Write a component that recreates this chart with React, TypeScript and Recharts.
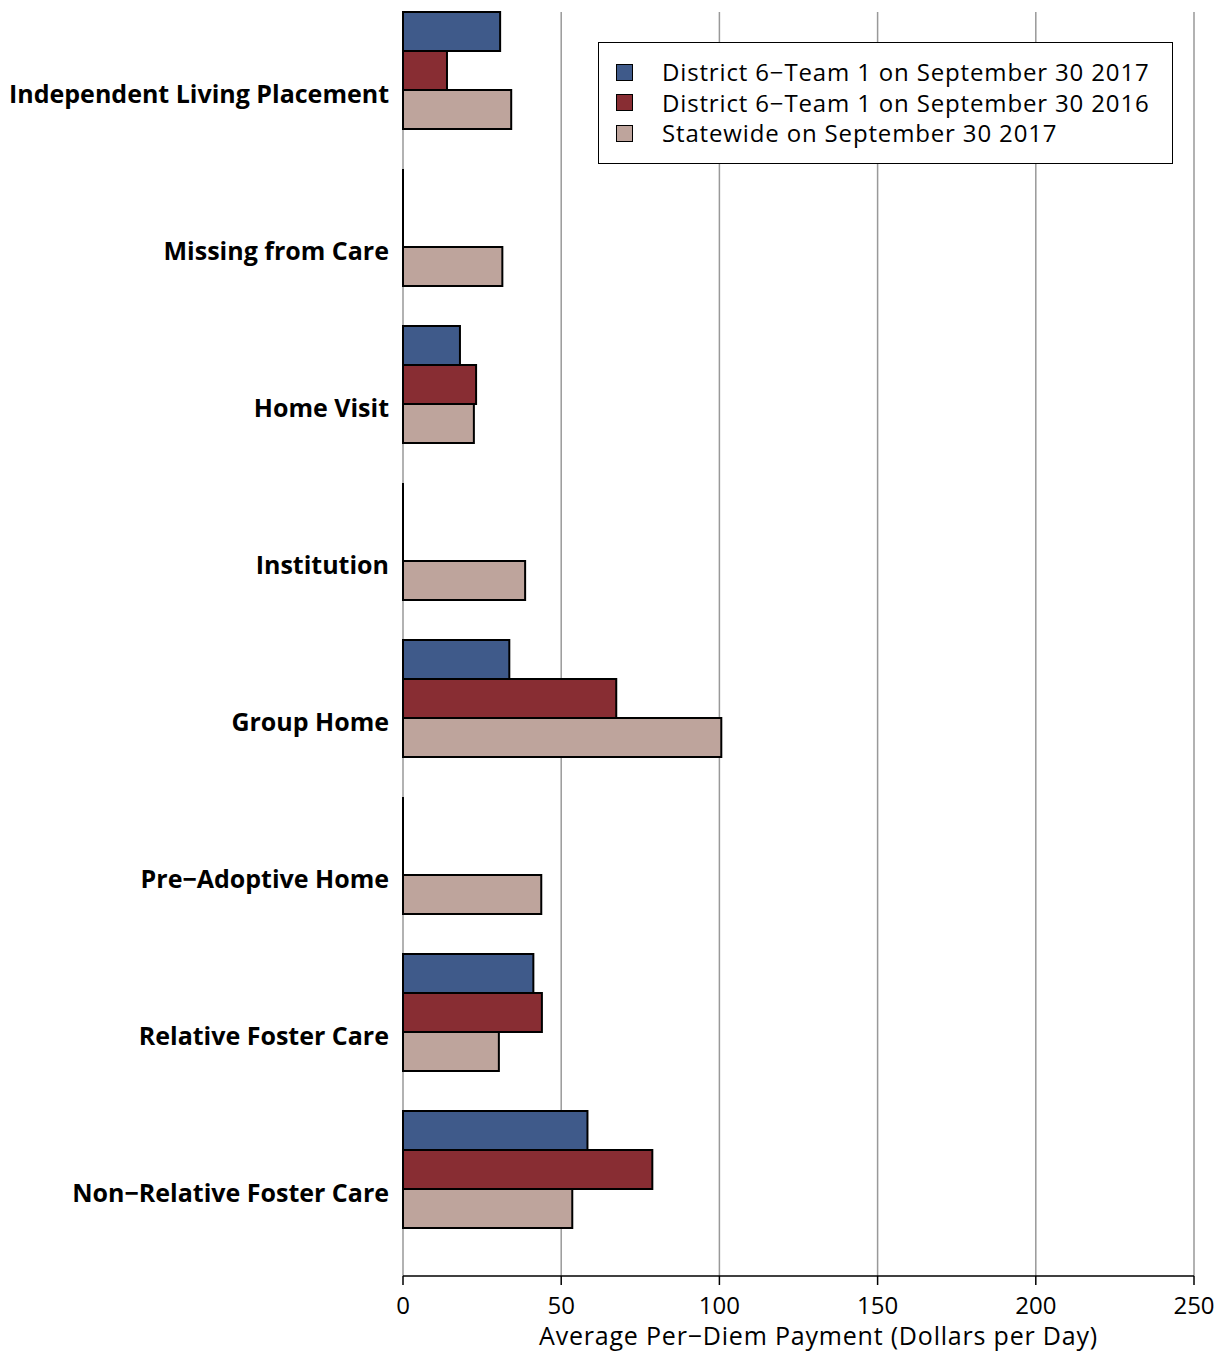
import { BarChart, Bar, XAxis, YAxis, CartesianGrid } from "recharts";

const categories = [
  "Independent Living Placement",
  "Missing from Care",
  "Home Visit",
  "Institution",
  "Group Home",
  "Pre−Adoptive Home",
  "Relative Foster Care",
  "Non−Relative Foster Care",
];
const team2017 = [30.7, 0, 18.0, 0, 33.6, 0, 41.2, 58.3];
const team2016 = [13.9, 0, 23.1, 0, 67.4, 0, 43.9, 78.8];
const statewide2017 = [34.2, 31.4, 22.4, 38.6, 100.6, 43.7, 30.3, 53.5];
const xTicks = [0, 50, 100, 150, 200, 250];

const seriesNames = [
  "District 6−Team 1 on September 30 2017",
  "District 6−Team 1 on September 30 2016",
  "Statewide on September 30 2017",
];
const colors = ["#3F5A8A", "#882D33", "#BEA49C"];

const data = categories.map((name, i) => ({
  name,
  a: team2017[i],
  b: team2016[i],
  c: statewide2017[i],
}));

const FONT = "'Open Sans', sans-serif";

function BarShape(props: any) {
  const { x, y, width, height, fill } = props;
  if (!width || width <= 0) {
    return <line x1={x} x2={x} y1={y} y2={y + height} stroke="#000" strokeWidth={2} />;
  }
  return <rect x={x} y={y} width={width} height={height} fill={fill} stroke="#000" strokeWidth={2} />;
}

function CategoryTick(props: any) {
  const { x, y, payload } = props;
  return (
    <text x={x} y={y + 23.5} dy="0.35em" textAnchor="end" fontFamily={FONT} fontWeight={700} fontSize={25} fill="#000">
      {payload.value}
    </text>
  );
}

function LegendBox() {
  return (
    <div
      style={{
        position: "absolute",
        left: 590,
        top: 34,
        width: 575,
        height: 122,
        boxSizing: "border-box",
        border: "1.5px solid #000",
        background: "#fff",
        padding: "14px 0 0 17px",
        fontFamily: FONT,
        fontSize: 24,
        letterSpacing: 0.85,
        lineHeight: "30.5px",
      }}
    >
      {seriesNames.map((n, i) => (
        <div key={n} style={{ display: "flex", alignItems: "center", height: 30.5 }}>
          <span
            style={{
              width: 17,
              height: 17,
              background: colors[i],
              border: "1.5px solid #000",
              boxSizing: "border-box",
              marginRight: 29,
              flexShrink: 0,
            }}
          />
          <span>{n}</span>
        </div>
      ))}
    </div>
  );
}

export default function App() {
  return (
    <div style={{ position: "relative", width: 1217, height: 1345 }}>
      <BarChart
        width={1217}
        height={1345}
        data={data}
        layout="vertical"
        margin={{ top: 4, right: 31, bottom: 0, left: 0 }}
        barGap={0}
        barSize={39}
      >
        <CartesianGrid horizontal={false} stroke="#999" strokeWidth={1.5} />
        <XAxis
          type="number"
          domain={[0, 250]}
          ticks={xTicks}
          interval={0}
          axisLine={{ stroke: "#000", strokeWidth: 1.5 }}
          tickLine={{ stroke: "#000", strokeWidth: 1.5 }}
          tickSize={9}
          tickMargin={12}
          tick={{ fontFamily: FONT, fontSize: 24, fill: "#000" }}
          height={77}
          label={{
            value: "Average Per−Diem Payment (Dollars per Day)",
            position: "insideBottom",
            offset: 8,
            dx: 20,
            fontFamily: FONT,
            fontSize: 25,
            letterSpacing: 0.8,
            fill: "#000",
          }}
        />
        <YAxis
          type="category"
          dataKey="name"
          width={395}
          axisLine={false}
          tickLine={false}
          tickMargin={8}
          interval={0}
          padding={{ top: -20, bottom: 28 }}
          tick={<CategoryTick />}
        />
        <Bar dataKey="a" name={seriesNames[0]} fill={colors[0]} shape={<BarShape />} isAnimationActive={false} />
        <Bar dataKey="b" name={seriesNames[1]} fill={colors[1]} shape={<BarShape />} isAnimationActive={false} />
        <Bar dataKey="c" name={seriesNames[2]} fill={colors[2]} shape={<BarShape />} isAnimationActive={false} />
      </BarChart>
      <LegendBox />
    </div>
  );
}
